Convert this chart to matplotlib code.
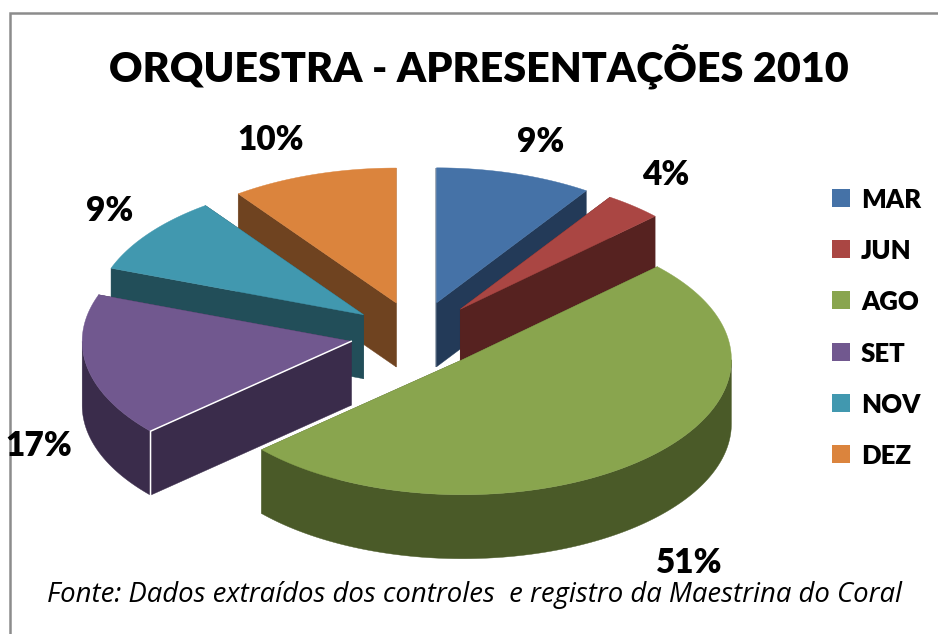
import numpy as np
import matplotlib
matplotlib.use('Agg')
import matplotlib.pyplot as plt
from matplotlib.patches import Polygon, Rectangle

months = ['MAR', 'JUN', 'AGO', 'SET', 'NOV', 'DEZ']
# shares, the labels show them rounded
values = [9.4, 3.5, 50.5, 17.2, 9.4, 10.0]
labels = ['9%', '4%', '51%', '17%', '9%', '10%']
top_colors = ['#4572a7', '#aa4643', '#89a54e', '#71588f', '#4198af', '#db843d']
side_colors = ['#233a58', '#562220', '#4a5a28', '#3a2c4b', '#224e59', '#6f4320']

title = 'ORQUESTRA - APRESENTAÇÕES 2010'
source = 'Fonte: Dados extraídos dos controles  e registro da Maestrina do Coral'

# pie geometry, in pixels of the picture
CX, CY = 417, 335
A, B = 269, 135
DEPTH = 64
EXPLODE = 67

label_pos = [(541, 142), (666, 175), (689, 563), (39, 446), (110, 211), (271, 140)]

fig = plt.figure(figsize=(9.38, 6.34), dpi=100)
ax = fig.add_axes([0, 0, 1, 1])
ax.set_xlim(0, 938)
ax.set_ylim(634, 0)
ax.axis('off')

# frame of the chart, cut by the picture on the right and bottom
ax.plot([10, 10, 938], [634, 13, 13], color='#8c8c8c', lw=1.8, solid_joinstyle='miter')

fracs = np.array(values) / sum(values)
ends = np.cumsum(fracs) * 2 * np.pi
starts = ends - fracs * 2 * np.pi


def ring(ox, oy, t):
    return ox + A * np.sin(t), oy - B * np.cos(t)


def draw_slice(i):
    t0, t1 = starts[i], ends[i]
    mid = (t0 + t1) / 2
    ox = CX + EXPLODE * np.sin(mid)
    oy = CY - EXPLODE * B / A * np.cos(mid)
    side = side_colors[i]

    # the two cut faces
    for t in (t0, t1):
        x, y = ring(ox, oy, t)
        face = [(ox, oy), (x, y), (x, y + DEPTH), (ox, oy + DEPTH)]
        ax.add_patch(Polygon(face, closed=True, fc=side, ec=side, lw=0.3))

    # outer wall, only the front half shows
    w0, w1 = max(t0, np.pi / 2), min(t1, 3 * np.pi / 2)
    if w1 > w0:
        t = np.linspace(w0, w1, 120)
        x, y = ring(ox, oy, t)
        wall = np.r_[np.c_[x, y], np.c_[x, y + DEPTH][::-1]]
        ax.add_patch(Polygon(wall, closed=True, fc=side, ec=side, lw=0.3))

    t = np.linspace(t0, t1, 160)
    x, y = ring(ox, oy, t)
    top = np.r_[[(ox, oy)], np.c_[x, y]]
    ax.add_patch(Polygon(top, closed=True, fc=top_colors[i], ec=top_colors[i], lw=0.3))

    # SET has a light line along its front corner
    if months[i] == 'SET':
        x, y = ring(ox, oy, t0)
        ax.plot([ox, x, x], [oy, y, y + DEPTH], color='white', lw=1.1, solid_joinstyle='miter')


# back slices first
order = sorted(range(len(values)), key=lambda i: -np.cos((starts[i] + ends[i]) / 2))
for i in order:
    draw_slice(i)

for lab, (x, y) in zip(labels, label_pos):
    ax.text(x, y, lab, ha='center', va='center', family='Lato', weight='heavy',
            fontsize=24, color='black')

for i, name in enumerate(months):
    y = 198 + i * 51.2
    ax.add_patch(Rectangle((832, y - 9), 18, 18, fc=top_colors[i], ec='none'))
    ax.text(861, y + 2, name, ha='left', va='center', family='Lato', weight='heavy',
            fontsize=18.5, color='black')

ax.text(479, 66, title, ha='center', va='center', family='Lato', weight='heavy',
        fontsize=29.7, color='black')
ax.text(474.5, 595, source, ha='center', va='center', family='Open Sans', style='italic',
        fontsize=19.8, color='black')

fig.savefig('out.png', dpi=100)
